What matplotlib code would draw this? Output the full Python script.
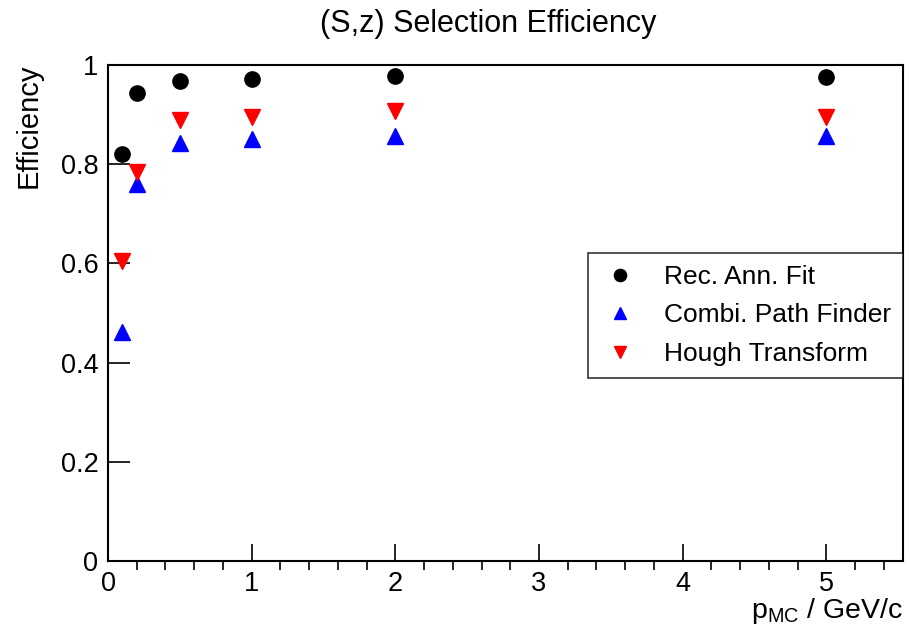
import matplotlib
matplotlib.use('Agg')
import matplotlib.pyplot as plt
from matplotlib.ticker import MultipleLocator

plt.rcParams['font.family'] = ['Liberation Sans', 'DejaVu Sans']

# momentum bins and selection efficiency per finder
p_mc = [0.1, 0.2, 0.5, 1.0, 2.0, 5.0]
eff_rec_ann = [0.821, 0.943, 0.968, 0.971, 0.978, 0.976]
eff_combi = [0.462, 0.760, 0.842, 0.850, 0.857, 0.857]
eff_hough = [0.605, 0.785, 0.890, 0.896, 0.907, 0.896]

fig = plt.figure(figsize=(9.10, 6.39), dpi=100)
ax = fig.add_axes([108/910, 78/639, 794.5/910, 496/639])

ax.plot(p_mc, eff_rec_ann, 'o', color='black', ms=11, label='Rec. Ann. Fit')
ax.plot(p_mc, eff_combi, '^', color='blue', ms=11.5, label='Combi. Path Finder')
ax.plot(p_mc, eff_hough, 'v', color='red', ms=11.5, label='Hough Transform')

ax.set_xlim(0, 5.53)
ax.set_ylim(0, 1)
ax.xaxis.set_major_locator(MultipleLocator(1))
ax.xaxis.set_minor_locator(MultipleLocator(0.2))
ax.set_yticks([0, 0.2, 0.4, 0.6, 0.8, 1.0])
ax.set_yticklabels(['0', '0.2', '0.4', '0.6', '0.8', '1'])
ax.tick_params(axis='both', direction='in', labelsize=19.5, width=1.2, colors='black')
ax.tick_params(axis='x', which='major', length=12, pad=7)
ax.tick_params(axis='x', which='minor', length=6.5, width=1.2)
ax.tick_params(axis='y', which='major', length=15.5, pad=7)
for s in ax.spines.values():
    s.set_linewidth(1.5)

fig.text(488/910, 1 - 32/639, '(S,z) Selection Efficiency', ha='center',
         va='baseline', fontsize=22)
fig.text(29/910, 1 - 63/639, 'Efficiency', rotation=90, ha='center', va='top',
         fontsize=21)
fig.text(903/910, 1 - 618/639, r'p$_{\mathregular{MC}}$ / GeV/c', ha='right',
         va='baseline', fontsize=20.5)

leg = ax.legend(loc='upper right', bbox_to_anchor=(1.0, 0.621),
                fontsize=19, frameon=True, fancybox=False, edgecolor='black',
                borderpad=0.45, labelspacing=0.55, handletextpad=0.9,
                handlelength=1.5, borderaxespad=0, numpoints=1, markerscale=0.8)
leg.get_frame().set_linewidth(1.2)

fig.savefig('out.png', dpi=100)
